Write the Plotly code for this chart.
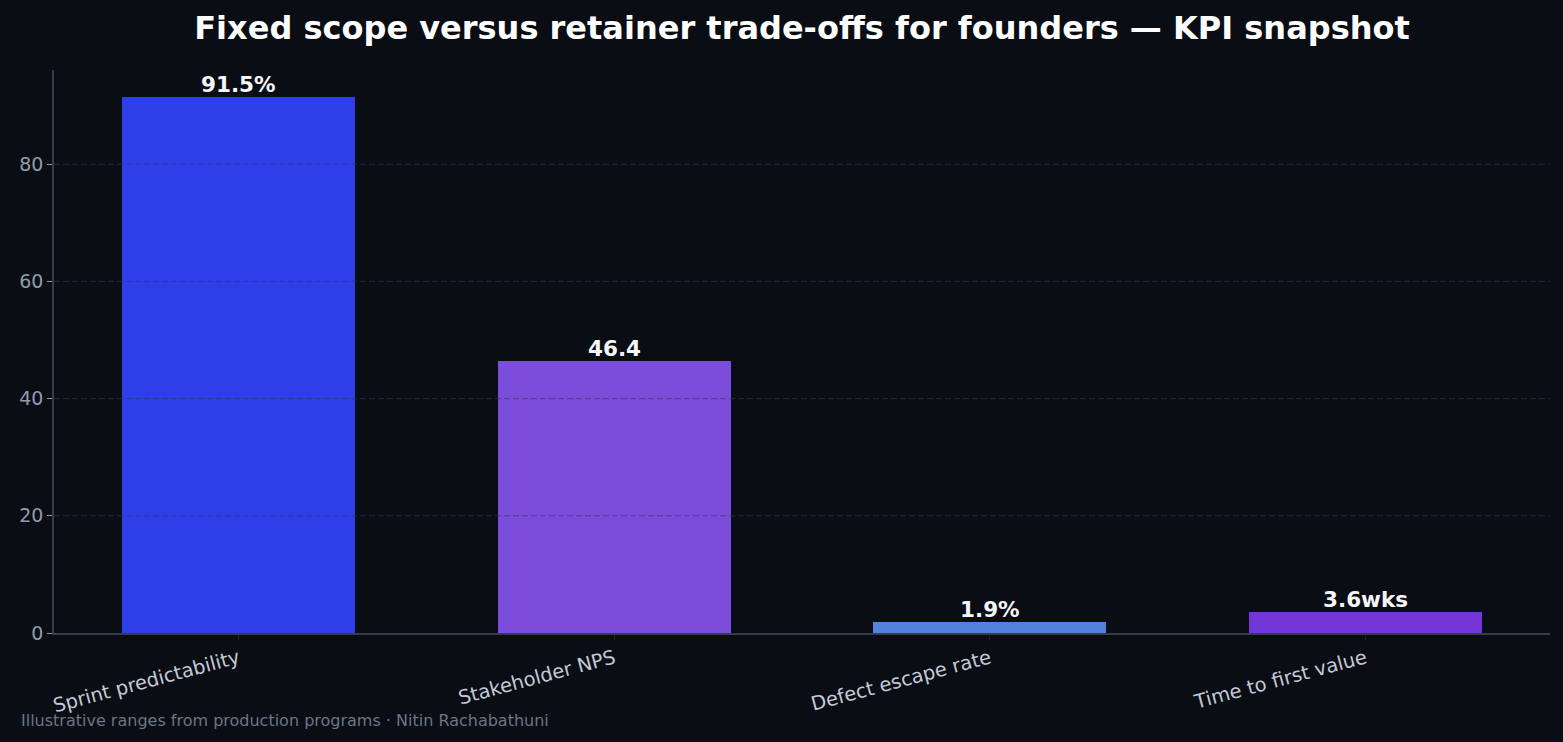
import plotly.graph_objects as go

categories = ["Sprint predictability", "Stakeholder NPS", "Defect escape rate", "Time to first value"]
values = [91.5, 46.4, 1.9, 3.6]
value_labels = ["91.5%", "46.4", "1.9%", "3.6wks"]
bar_colors = ["#2E3FEA", "#7C4CDB", "#5182DE", "#7435D9"]
y_ticks = [0, 20, 40, 60, 80]

BG = "#0A0D14"
FONT = "DejaVu Sans"

fig = go.Figure()
fig.add_trace(go.Bar(
    x=list(range(len(categories))),
    y=values,
    width=0.62,
    marker=dict(color=bar_colors, line=dict(width=0)),
    hoverinfo="skip",
))

for i, (v, t) in enumerate(zip(values, value_labels)):
    fig.add_annotation(
        x=i, y=v, xref="x", yref="y",
        text="<b>" + t + "</b>",
        showarrow=False, yanchor="bottom", xanchor="center",
        yshift=-2,
        font=dict(family=FONT, size=21.5, color="#F5F7FA"),
    )

fig.update_layout(
    width=1563, height=742,
    paper_bgcolor=BG, plot_bgcolor=BG,
    margin=dict(l=54, r=13, t=70, b=109),
    showlegend=False,
    bargap=0,
    title=dict(
        text="<b>Fixed scope versus retainer trade-offs for founders — KPI snapshot</b>",
        x=(54 + 1550) / 2 / 1563, xanchor="center",
        y=1 - 28 / 742, yanchor="middle",
        font=dict(family=FONT, size=32, color="#FFFFFF"),
    ),
    font=dict(family=FONT),
)

fig.update_xaxes(
    range=[-0.491, 3.491],
    tickmode="array",
    tickvals=list(range(len(categories))),
    ticktext=categories,
    tickangle=-15,
    tickfont=dict(family=FONT, size=19.5, color="#C3CAD6"),
    ticks="outside", ticklen=5, tickcolor="#1F2530", tickwidth=1,
    showgrid=False, zeroline=False,
    showline=True, linecolor="#343D4E", linewidth=1.5,
)
fig.update_yaxes(
    range=[0, 96.075],
    tickmode="array",
    tickvals=y_ticks,
    ticktext=[str(v) for v in y_ticks],
    tickfont=dict(family=FONT, size=19, color="#929CAE"),
    ticks="outside", ticklen=5, tickcolor="#8E98AA", tickwidth=1,
    showgrid=False,
    zeroline=False,
    showline=True, linecolor="#343D4E", linewidth=1.5,
)

# dashed grid drawn above bars (as in reference)
for v in y_ticks[1:]:
    fig.add_shape(
        type="line", xref="paper", yref="y",
        x0=0, x1=1, y0=v, y1=v,
        line=dict(color="rgba(44,58,84,0.65)", width=1, dash="6px,3px"),
        layer="above",
    )

fig.add_annotation(
    text="Illustrative ranges from production programs · Nitin Rachabathuni",
    xref="paper", yref="paper",
    x=(19 - 54) / (1563 - 54 - 13), xanchor="left",
    y=-(720 - 633) / (633 - 70), yanchor="middle",
    showarrow=False,
    font=dict(family=FONT, size=16, color="#6B7587"),
)

fig.write_html("out.html")
